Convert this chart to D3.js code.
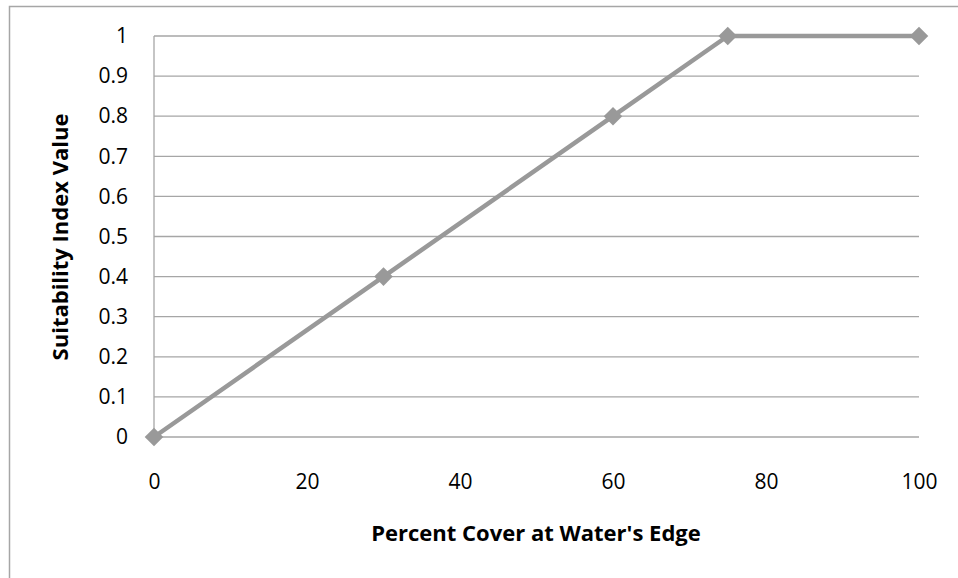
<!DOCTYPE html>
<html>
<head>
<meta charset="utf-8">
<script src="https://cdn.jsdelivr.net/npm/d3@7"></script>
<style>
    body { margin: 0; background: #fff; }
    svg { display: block; font-family: "Open Sans", "Noto Sans", sans-serif; }
</style>
</head>
<body>
<svg id="chart" width="958" height="578"></svg>
<script>
// values
var coverPct = [0, 30, 60, 75, 100];
var suitIndex = [0, 0.4, 0.8, 1, 1];
var xTicks = [0, 20, 40, 60, 80, 100];
var yTicks = [0, 0.1, 0.2, 0.3, 0.4, 0.5, 0.6, 0.7, 0.8, 0.9, 1];
var xTitle = "Percent Cover at Water's Edge";
var yTitle = "Suitability Index Value";

var svg = d3.select("#chart");

// outer chart border (runs off the right/bottom edge)
svg.append("rect")
    .attr("x", 9.5).attr("y", 6.5)
    .attr("width", 960).attr("height", 580)
    .attr("fill", "none")
    .attr("stroke", "#a6a6a6")
    .attr("stroke-width", 1.5);

var x = d3.scaleLinear().domain([0, 100]).range([154, 919]);
var y = d3.scaleLinear().domain([0, 1]).range([437, 36]);

var grid = svg.append("g");
grid.selectAll("line").data(yTicks)
    .enter().append("line")
    .attr("x1", x(0)).attr("x2", x(100))
    .attr("y1", function (d) { return y(d); })
    .attr("y2", function (d) { return y(d); })
    .attr("stroke", "#a6a6a6")
    .attr("stroke-width", 1.3);

// y axis line
svg.append("line")
    .attr("x1", x(0)).attr("x2", x(0))
    .attr("y1", y(0)).attr("y2", y(1))
    .attr("stroke", "#a6a6a6")
    .attr("stroke-width", 1.3);

var yAxis = d3.axisLeft(y).tickValues(yTicks).tickSize(0).tickPadding(26)
    .tickFormat(function (d) { return d3.format("")(+d.toFixed(1)); });
svg.append("g")
    .attr("transform", "translate(" + x(0) + ",0)")
    .call(yAxis)
    .call(function (g) { g.select(".domain").remove(); })
    .attr("font-size", 21)
    .attr("font-family", "Open Sans, sans-serif")
    .selectAll("text")
    .attr("fill", "#000");

var xAxis = d3.axisBottom(x).tickValues(xTicks).tickSize(0).tickPadding(37);
svg.append("g")
    .attr("transform", "translate(0," + y(0) + ")")
    .call(xAxis)
    .call(function (g) { g.select(".domain").remove(); })
    .attr("font-size", 21)
    .attr("font-family", "Open Sans, sans-serif")
    .selectAll("text")
    .attr("fill", "#000");

var pts = coverPct.map(function (d, i) { return [d, suitIndex[i]]; });

var line = d3.line()
    .x(function (d) { return x(d[0]); })
    .y(function (d) { return y(d[1]); });

svg.append("path")
    .datum(pts)
    .attr("d", line)
    .attr("fill", "none")
    .attr("stroke", "#999999")
    .attr("stroke-width", 4.5)
    .attr("stroke-linejoin", "round");

svg.selectAll("path.marker").data(pts)
    .enter().append("path")
    .attr("class", "marker")
    .attr("d", d3.symbol().type(d3.symbolDiamond2).size(220))
    .attr("transform", function (d) { return "translate(" + x(d[0]) + "," + y(d[1]) + ")"; })
    .attr("fill", "#999999");

svg.append("text")
    .attr("x", 536).attr("y", 541)
    .attr("text-anchor", "middle")
    .attr("font-size", 22)
    .attr("font-weight", "bold")
    .text(xTitle);

svg.append("text")
    .attr("transform", "translate(68," + 237 + ") rotate(-90)")
    .attr("text-anchor", "middle")
    .attr("font-size", 22)
    .attr("font-weight", "bold")
    .text(yTitle);
</script>
</body>
</html>
